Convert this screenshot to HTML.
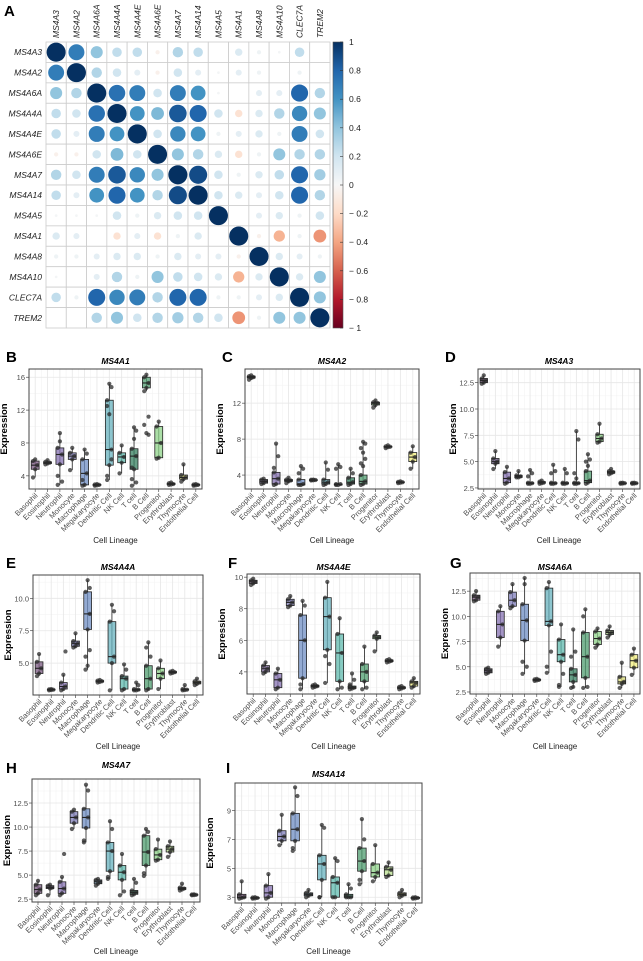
<!DOCTYPE html>
<html><head><meta charset="utf-8">
<style>
html,body{margin:0;padding:0;background:#fff;}
svg{display:block;font-family:"Liberation Sans",Arial,sans-serif;}
</style></head>
<body>
<svg id="fig" width="643" height="961" viewBox="0 0 643 961"></svg>
<script>
// ---------- Correlation matrix data ----------
const genes = ["MS4A3","MS4A2","MS4A6A","MS4A4A","MS4A4E","MS4A6E","MS4A7","MS4A14","MS4A5","MS4A1","MS4A8","MS4A10","CLEC7A","TREM2"];
const corrValues = [
 [1,.7,.4,.25,.25,-.05,.3,.25,0,.15,.05,.02,.25,0],
 [.7,1,.3,.2,.1,-.05,.2,.1,.02,.1,.05,0,.05,0],
 [.4,.3,1,.75,.7,.2,.7,.6,.02,0,.1,.1,.8,.3],
 [.25,.2,.75,1,.6,.45,.85,.8,.2,-.15,.15,.3,.65,.4],
 [.25,.1,.7,.6,1,.2,.65,.6,.05,.1,.15,.05,.7,.2],
 [-.05,-.05,.2,.45,.2,1,.4,.3,.15,-.15,.05,.4,.3,.3],
 [.3,.2,.7,.85,.65,.4,1,.9,.2,.05,.15,.25,.8,.35],
 [.25,.1,.6,.8,.6,.3,.9,1,.2,.15,.1,.2,.8,.3],
 [.02,.02,.02,.2,.05,.15,.2,.2,1,0,.1,.15,.05,.2],
 [.15,.1,0,-.15,.1,-.15,.05,.15,0,1,-.05,-.35,.05,-.45],
 [.05,.05,.1,.15,.15,.05,.15,.1,.1,-.05,1,.15,.1,.05],
 [.02,0,.1,.3,.05,.4,.25,.2,.15,-.35,.15,1,.15,.4],
 [.25,.05,.8,.65,.7,.3,.8,.8,.05,.05,.1,.15,1,.4],
 [0,0,.3,.4,.2,.3,.35,.3,.2,-.45,.05,.4,.4,1]
];
const colorbarTicks = [1,0.8,0.6,0.4,0.2,0,-0.2,-0.4,-0.6,-0.8,-1];

// ---------- Boxplot data ----------
const cellTypes = ["Basophil","Eosinophil","Neutrophil","Monocyte","Macrophage","Megakaryocyte","Dendritic Cell","NK Cell","T cell","B Cell","Progenitor","Erythroblast","Thymocyte","Endothelial Cell"];
// [min, q1, median, q3, max]
const ms4a1Stats = [[3.8,4.8,5.3,5.8,6.0],[5.4,5.5,5.6,5.7,5.9],[2.9,5.4,6.6,7.4,9.2],[4.7,6.0,6.4,6.8,7.4],[2.8,2.9,4.3,6.0,7.2],[2.8,2.85,2.9,2.95,3.0],[3.5,5.3,7.2,13.2,15.2],[4.3,5.6,6.3,6.8,7.7],[2.8,4.8,6.4,7.3,9.9],[14.3,14.7,15.3,16.0,16.3],[6.1,6.2,8.0,10.0,10.6],[2.9,2.95,3.0,3.1,3.2],[3.3,3.6,3.8,4.1,5.4],[2.8,2.85,2.9,2.95,3.0]];
const ms4a1Extra = [[],[],[3.3,4.0,8.2],[],[6.7,3.5],[],[14.8,12.5,11.5,6.0,4.0],[],[3.2,3.6,8.5,9.5,5.0],[11.2,10.2,9.2,9.0],[],[],[],[]];
const ms4a2Stats = [[14.6,14.8,14.9,15.0,15.1],[3.0,3.1,3.3,3.5,3.6],[2.9,3.0,3.6,4.3,7.5],[3.1,3.3,3.4,3.5,3.7],[2.9,2.9,3.0,3.5,5.0],[3.4,3.42,3.45,3.48,3.5],[2.9,3.0,3.2,3.5,5.4],[2.9,2.9,3.0,3.0,5.2],[2.9,3.0,3.2,3.7,4.7],[2.9,3.0,3.3,4.0,7.7],[11.5,11.8,12.0,12.1,12.3],[7.0,7.1,7.15,7.2,7.3],[3.1,3.15,3.2,3.25,3.3],[4.7,5.5,6.0,6.5,7.2]];
const ms4a2Extra = [[],[],[6.1,4.8],[],[4.7,4.2],[],[4.6],[4.9,4.7],[4.2],[7.5,7.0,6.5,5.8,5.3,5.0],[],[],[],[]];
const ms4a3Stats = [[12.4,12.5,12.7,12.9,13.2],[4.3,4.8,5.0,5.3,6.0],[2.9,3.0,3.4,4.0,4.5],[3.5,3.5,3.6,3.7,4.1],[2.9,2.9,2.95,3.0,4.2],[2.9,2.95,3.0,3.1,3.2],[2.9,2.9,2.95,3.0,4.7],[2.9,2.9,2.95,3.0,4.3],[2.9,2.9,2.95,3.0,7.9],[2.9,3.0,3.2,4.1,5.7],[6.8,6.9,7.2,7.6,8.6],[3.8,3.9,4.0,4.1,4.3],[2.9,2.92,2.95,2.98,3.0],[2.9,2.92,2.95,2.98,3.0]];
const ms4a3Extra = [[],[],[],[],[3.9,3.6],[],[4.1,3.9],[3.9],[7.1,3.9,3.4],[5.2,5.0,4.6],[],[],[],[]];
const ms4a4aStats = [[4.0,4.2,4.6,5.1,5.7],[2.9,2.92,2.95,2.98,3.0],[2.9,3.0,3.2,3.5,4.1],[6.2,6.3,6.5,6.7,7.3],[4.5,7.6,8.8,10.5,11.4],[3.5,3.55,3.6,3.65,3.7],[2.9,5.0,5.5,8.2,9.5],[2.9,3.0,3.8,4.0,4.9],[2.9,2.9,2.95,3.0,3.5],[2.9,3.0,3.8,4.8,6.6],[3.0,3.8,4.2,4.6,5.2],[4.2,4.25,4.3,4.35,4.4],[2.9,2.92,2.95,3.0,3.3],[3.3,3.4,3.5,3.6,3.8]];
const ms4a4aExtra = [[],[],[5.9],[],[6.0,5.5,4.8,10.8],[],[9.0],[4.5],[3.3],[5.5,6.2],[],[],[],[]];
const ms4a4eStats = [[9.5,9.6,9.7,9.8,9.9],[3.9,4.0,4.2,4.4,4.6],[2.9,3.0,3.5,3.9,4.2],[8.1,8.2,8.4,8.6,8.8],[2.9,3.6,6.0,7.6,8.5],[3.0,3.05,3.1,3.15,3.2],[3.3,5.4,7.5,8.7,9.7],[2.9,3.4,5.2,6.4,7.4],[2.9,2.95,3.0,3.1,3.9],[2.9,3.4,4.0,4.5,5.6],[5.3,6.1,6.2,6.3,6.5],[4.6,4.65,4.7,4.75,4.8],[2.9,2.95,3.0,3.05,3.1],[3.0,3.1,3.3,3.4,3.6]];
const ms4a4eExtra = [[],[],[],[],[8.2,3.2],[],[4.5,5.0],[3.0],[3.5,3.2],[3.0],[],[],[],[]];
const ms4a6aStats = [[11.5,11.6,11.9,12.1,12.5],[4.3,4.4,4.6,4.8,4.9],[7.0,7.9,9.2,10.5,11.0],[10.8,11.0,11.6,12.4,13.2],[4.3,7.6,9.6,11.2,13.8],[3.6,3.65,3.7,3.75,3.8],[4.4,9.1,9.5,12.8,13.4],[3.0,5.5,6.2,7.7,9.2],[2.9,3.5,4.2,4.8,8.7],[2.9,3.9,6.0,8.4,10.7],[6.9,7.2,7.8,8.5,8.8],[7.9,8.2,8.4,8.6,9.0],[2.9,3.3,3.5,4.0,5.4],[4.2,4.9,5.6,6.2,6.8]];
const ms4a6aExtra = [[],[],[],[],[5.0,5.5,13.2],[],[6.5,5.0],[4.3,3.2],[6.5,6.0,3.0],[3.0,10.0],[],[],[],[]];
const ms4a7Stats = [[2.9,3.1,3.5,4.0,4.4],[2.9,3.6,3.7,3.9,4.0],[2.9,3.1,3.6,4.3,4.8],[9.8,10.4,11.0,11.6,11.8],[8.4,9.9,11.0,11.9,14.4],[3.9,4.1,4.3,4.5,4.6],[4.6,5.4,7.5,8.4,10.6],[2.9,4.5,5.3,6.0,7.2],[2.9,3.0,3.2,3.4,4.6],[4.9,6.0,7.4,9.1,9.8],[6.5,6.6,7.1,7.7,8.7],[6.9,7.4,7.7,8.0,8.5],[3.4,3.5,3.6,3.7,4.1],[2.9,2.92,2.95,2.98,3.0]];
const ms4a7Extra = [[],[],[7.2],[],[13.8,8.6],[],[9.8,4.8],[3.3],[4.2],[9.5,5.2],[],[],[],[]];
const ms4a14Stats = [[2.9,2.95,3.0,3.2,4.1],[2.9,2.92,2.95,2.98,3.0],[2.9,3.0,3.3,3.8,4.6],[6.6,6.9,7.2,7.6,8.7],[6.2,6.9,7.7,8.8,10.6],[3.0,3.1,3.2,3.3,3.5],[3.0,4.2,5.3,5.9,8.0],[3.0,3.0,4.0,4.4,5.7],[3.0,3.0,3.0,3.2,3.9],[3.9,4.8,5.5,6.4,8.4],[4.1,4.4,4.7,5.3,6.6],[4.4,4.5,4.9,5.1,5.4],[3.0,3.1,3.2,3.3,3.5],[2.9,2.92,2.95,2.98,3.0]];
const ms4a14Extra = [[],[],[],[],[10.0,6.4],[],[7.8,3.0],[5.5],[3.6],[7.0,4.2],[],[],[],[]];

const NS = "http://www.w3.org/2000/svg";
const svg = document.getElementById('fig');
function mk(tag, attrs, parent){ const e=document.createElementNS(NS,tag); for(const k in attrs) e.setAttribute(k,attrs[k]); (parent||svg).appendChild(e); return e; }
function txt(s, attrs, parent){ const e=mk('text',attrs,parent); e.textContent=s; return e; }

// ---------- Panel A ----------
const gA = mk('g',{});  
const la = txt('A',{x:4,y:16,'font-size':15,'font-weight':'bold'},gA);
 
const gx0=46, gx1=330, gy0=42, gy1=328;
const cw=(gx1-gx0)/genes.length, ch=(gy1-gy0)/genes.length;
function lerp(a,b,t){return a+(b-a)*t;}
function hex(c){return [parseInt(c.slice(1,3),16),parseInt(c.slice(3,5),16),parseInt(c.slice(5,7),16)];}
const posStops=["#f7f7f7","#d1e5f0","#92c5de","#4393c3","#2166ac","#053061"];
const negStops=["#f7f7f7","#fddbc7","#f4a582","#d6604d","#b2182b","#67001f"];
function rdbu(v){ const st=v>=0?posStops:negStops; const a=Math.min(Math.abs(v),1)*5; const i=Math.min(Math.floor(a),4); const t=a-i; const c0=hex(st[i]),c1=hex(st[i+1]); return 'rgb('+c0.map((c,k)=>Math.round(lerp(c,c1[k],t))).join(',')+')'; }
function sx(j){return gx0+j*cw;} function sy(i){return gy0+i*ch;}
genes.forEach((g,i)=>{
  const rl=txt(g,{x:gx0-4,y:sy(i)+ch/2+3,'font-size':8.5,'font-style':'italic','text-anchor':'end',fill:'#222'},gA);
   
  const cx=sx(i)+cw/2+3, cy=gy0-4;
  const cl=txt(g,{x:cx,y:cy,'font-size':8.5,'font-style':'italic',transform:'rotate(-90 '+cx+' '+cy+')',fill:'#222'},gA);
   
});
corrValues.forEach((row,i)=>row.forEach((v,j)=>{
  const r=mk('rect',{x:sx(j),y:sy(i),width:cw,height:ch,fill:'#fff',stroke:'#ccc','stroke-width':0.8},gA);
   
  const rad=0.47*Math.min(cw,ch)*Math.sqrt(Math.abs(v));
  if(rad>0.3){ const c=mk('circle',{cx:sx(j)+cw/2,cy:sy(i)+ch/2,r:rad,fill:rdbu(v)},gA);
      }
}));
// colorbar
const cbx=333, cbw=10;
const defs=mk('defs',{});
const lg=mk('linearGradient',{id:'cbg',x1:0,y1:0,x2:0,y2:1},defs);
for(let k=0;k<=20;k++){ const v=1-k/10; mk('stop',{offset:(k/20),'stop-color':rdbu(v)},lg); }
const cb=mk('rect',{x:cbx,y:gy0,width:cbw,height:gy1-gy0,fill:'url(#cbg)',stroke:'#555','stroke-width':0.6},gA);
 
colorbarTicks.forEach(v=>{
  const y=gy0+(1-v)/2*(gy1-gy0);
  mk('line',{x1:cbx+cbw-3,x2:cbx+cbw,y1:y,y2:y,stroke:'#333','stroke-width':0.6},gA);
  const lbl = v<0 ? '\u2212 '+Math.abs(v) : String(v);
  const t=txt(lbl,{x:cbx+cbw+6,y:y+3,'font-size':8.5,fill:'#222'},gA);
   
});

// ---------- Boxplot panels ----------
const palette=["#7b5a82","#7c6899","#8672b2","#7f7db9","#6f8ec3","#6b95b4","#67b2be","#5fb9ae","#357f5f","#4f9c6f","#8fd38a","#b8de8f","#dfe07a","#f4f07f"];
function panel(p){
  const g=mk('g',{});  
  const y=v=>p.y1-(v-p.ymin)/(p.ymax-p.ymin)*(p.y1-p.y0);
  const bw=(p.x1-p.x0)/cellTypes.length;
  const xc=i=>p.x0+(i+0.5)*bw;
  mk('rect',{x:p.x0,y:p.y0,width:p.x1-p.x0,height:p.y1-p.y0,fill:'#fff'},g);
  // minor grid
  for(let k=0;k<p.ticks.length+1;k++){
    const a = k===0 ? p.ticks[0]-(p.ticks[1]-p.ticks[0]) : p.ticks[k-1];
    const m=a+(p.ticks[1]-p.ticks[0])/2; if(m>p.ymin&&m<p.ymax) mk('line',{x1:p.x0,x2:p.x1,y1:y(m),y2:y(m),stroke:'#f2f2f2','stroke-width':0.5},g);
  }
  for(let i=0;i<=cellTypes.length;i++){ mk('line',{x1:p.x0+i*bw,x2:p.x0+i*bw,y1:p.y0,y2:p.y1,stroke:'#f2f2f2','stroke-width':0.5},g); }
  p.ticks.forEach((t,k)=>{
    mk('line',{x1:p.x0,x2:p.x1,y1:y(t),y2:y(t),stroke:'#e6e6e6','stroke-width':0.8},g);
    mk('line',{x1:p.x0-3,x2:p.x0,y1:y(t),y2:y(t),stroke:'#333','stroke-width':0.6},g);
    const tl=txt(p.tickLabels[k],{x:p.x0-4,y:y(t)+3,'font-size':7.5,'text-anchor':'end',fill:'#4d4d4d'},g);
     
  });
  cellTypes.forEach((c,i)=>{
    mk('line',{x1:xc(i),x2:xc(i),y1:p.y0,y2:p.y1,stroke:'#e6e6e6','stroke-width':0.8},g);
    mk('line',{x1:xc(i),x2:xc(i),y1:p.y1,y2:p.y1+3,stroke:'#333','stroke-width':0.6},g);
    const tx=xc(i)+3, ty=p.y1+7;
    const tl=txt(c,{x:tx,y:ty,'font-size':7.5,'text-anchor':'end',fill:'#4d4d4d',transform:'rotate(-45 '+tx+' '+ty+')'},g);
     
  });
  p.stats.forEach((s,i)=>{
    const cx=xc(i), hw=bw*0.32;
    const wl=mk('line',{x1:cx,x2:cx,y1:y(s[0]),y2:y(s[4]),stroke:'#222','stroke-width':0.8},g);
     
    const b=mk('rect',{x:cx-hw,y:y(s[3]),width:2*hw,height:Math.max(y(s[1])-y(s[3]),0.8),fill:palette[i],'fill-opacity':0.75,stroke:'#222','stroke-width':0.8},g);
     
    mk('line',{x1:cx-hw,x2:cx+hw,y1:y(s[2]),y2:y(s[2]),stroke:'#222','stroke-width':1.1},g);
    const pts=[s[0],s[1],s[2],s[3],s[4]].concat(p.extra[i]);
    pts.forEach((v,k)=>{
      const off=((k%3)-1)*hw*0.55;
      const d=mk('circle',{cx:cx+off,cy:y(v),r:2.1,fill:'#2a2a2a','fill-opacity':0.75},g);
       
    });
  });
  mk('rect',{x:p.x0,y:p.y0,width:p.x1-p.x0,height:p.y1-p.y0,fill:'none',stroke:'#444','stroke-width':1},g);
  const tt=txt(p.title,{x:(p.x0+p.x1)/2,y:p.ty,'font-size':8.5,'font-weight':'bold','font-style':'italic','text-anchor':'middle'},g);
   
  const lt=txt(p.letter,{x:p.lx,y:p.ly,'font-size':15,'font-weight':'bold'},g);
   
  const yc=(p.y0+p.y1)/2, yx=p.x0-22;
  const yt=txt('Expression',{x:yx,y:yc,'font-size':9.5,'font-weight':'bold','text-anchor':'middle',transform:'rotate(-90 '+yx+' '+yc+')'},g);
   
  const xt=txt('Cell Lineage',{x:(p.x0+p.x1)/2,y:p.cly,'font-size':8,'text-anchor':'middle',fill:'#222'},g);
   
}
const t25=[2.5,5,7.5,10,12.5], t25l=["2.5","5.0","7.5","10.0","12.5"];
panel({title:'MS4A1',letter:'B',lx:6,ly:362,x0:29,x1:202,y0:369,y1:489,ymin:2.4,ymax:17,ticks:[4,8,12,16],tickLabels:["4","8","12","16"],ty:364,cly:543,stats:ms4a1Stats,extra:ms4a1Extra});
panel({title:'MS4A2',letter:'C',lx:222,ly:362,x0:245,x1:419,y0:369,y1:489,ymin:2.45,ymax:15.8,ticks:[4,8,12],tickLabels:["4","8","12"],ty:364,cly:543,stats:ms4a2Stats,extra:ms4a2Extra});
panel({title:'MS4A3',letter:'D',lx:445,ly:362,x0:478,x1:640,y0:369,y1:489,ymin:2.4,ymax:13.8,ticks:t25,tickLabels:t25l,ty:364,cly:543,stats:ms4a3Stats,extra:ms4a3Extra});
panel({title:'MS4A4A',letter:'E',lx:6,ly:568,x0:33,x1:203,y0:575,y1:695,ymin:2.54,ymax:11.8,ticks:[5,7.5,10],tickLabels:["5.0","7.5","10.0"],ty:570,cly:749,stats:ms4a4aStats,extra:ms4a4aExtra});
panel({title:'MS4A4E',letter:'F',lx:228,ly:568,x0:247,x1:420,y0:574,y1:694,ymin:2.6,ymax:10.2,ticks:[4,6,8,10],tickLabels:["4","6","8","10"],ty:570,cly:749,stats:ms4a4eStats,extra:ms4a4eExtra});
panel({title:'MS4A6A',letter:'G',lx:450,ly:568,x0:470,x1:640,y0:573,y1:694,ymin:2.3,ymax:14.3,ticks:t25,tickLabels:t25l,ty:570,cly:749,stats:ms4a6aStats,extra:ms4a6aExtra});
panel({title:'MS4A7',letter:'H',lx:6,ly:773,x0:32,x1:200,y0:779,y1:902,ymin:2.2,ymax:15,ticks:t25,tickLabels:t25l,ty:768,cly:954,stats:ms4a7Stats,extra:ms4a7Extra});
panel({title:'MS4A14',letter:'I',lx:226,ly:773,x0:235,x1:422,y0:783,y1:903,ymin:2.6,ymax:10.9,ticks:[3,5,7,9],tickLabels:["3","5","7","9"],ty:777,cly:954,stats:ms4a14Stats,extra:ms4a14Extra});
</script>
</body></html>
